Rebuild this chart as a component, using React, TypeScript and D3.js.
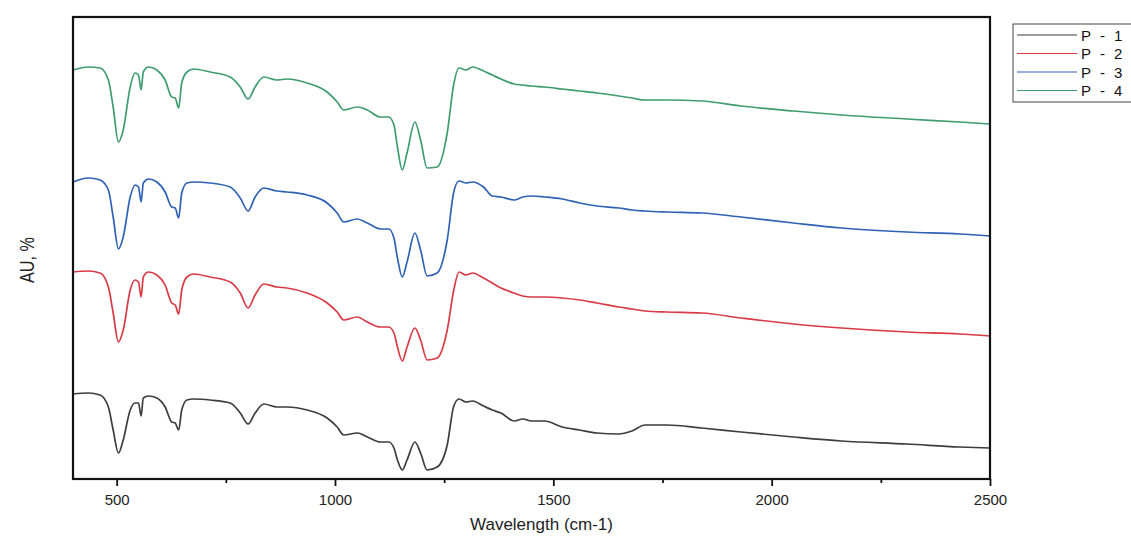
import React, { useRef, useEffect } from "react";
import * as d3 from "d3";

// wavelength grid (cm-1) shared by all four spectra
const wavelengths = [
  400, 435, 462, 481, 492, 504, 515, 531, 542, 550, 556, 561, 573, 592, 611, 626, 634, 642, 649, 661,
  676, 714, 760, 783, 801, 817, 837, 867, 890, 936, 982, 1005, 1020, 1051, 1074, 1104, 1123, 1135, 1143,
  1154, 1165, 1183, 1196, 1211, 1234, 1257, 1272, 1284, 1300, 1315, 1340, 1360, 1380, 1410, 1430, 1450,
  1480, 1520, 1560, 1600, 1650, 1680, 1710, 1760, 1840, 1930, 2050, 2160, 2310, 2430, 2500,
];

const p1 = [
  8.5, 8.6, 8.4, 7.2, 4.9, 2.6, 3.9, 6.9, 7.6, 7.6, 6.3, 8.1, 8.3, 8.1, 7.2, 5.7, 5.6, 4.9, 6.9, 7.9,
  8.0, 7.9, 7.6, 6.6, 5.5, 6.6, 7.5, 7.2, 7.2, 6.9, 6.1, 5.2, 4.4, 4.6, 4.2, 3.7, 3.7, 3.1, 1.9,
  0.9, 1.9, 3.7, 2.6, 0.9, 1.2, 3.4, 7.3, 8.0, 7.7, 7.8, 7.3, 6.9, 6.6, 5.8, 6.0, 5.8,
  5.8, 5.2, 4.9, 4.6, 4.5, 4.8, 5.4, 5.4, 5.1, 4.7, 4.2, 3.8, 3.5, 3.2, 3.1,
];

const p2 = [
  20.7, 20.8, 20.6, 19.2, 16.6, 13.7, 14.9, 18.9, 19.9, 19.7, 18.2, 20.2, 20.7, 20.4, 19.4, 17.6, 17.4, 16.5, 18.9, 20.2,
  20.5, 20.2, 19.7, 18.6, 17.1, 18.4, 19.5, 19.2, 19.1, 18.6, 17.6, 16.7, 15.9, 16.2, 15.7, 15.2, 15.2, 14.6, 13.2,
  11.8, 13.2, 15.1, 13.9, 11.9, 12.1, 14.9, 18.9, 20.7, 20.4, 20.6, 20.1, 19.6, 19.1, 18.6, 18.3, 18.2,
  18.2, 18.1, 17.9, 17.6, 17.2, 17.0, 16.8, 16.7, 16.6, 16.1, 15.5, 15.1, 14.7, 14.5, 14.3,
];

const p3 = [
  29.7, 30.1, 29.9, 28.9, 26.2, 23.0, 24.2, 28.2, 29.4, 29.2, 27.7, 29.6, 30.0, 29.7, 28.7, 27.2, 27.1, 26.1, 28.6, 29.6,
  29.7, 29.6, 29.2, 28.1, 26.8, 28.2, 29.1, 28.8, 28.7, 28.4, 27.6, 26.6, 25.7, 26.0, 25.6, 25.0, 25.0, 24.1, 22.1,
  20.2, 21.7, 24.6, 22.9, 20.3, 20.6, 23.9, 28.7, 29.8, 29.6, 29.7, 29.2, 28.3, 28.2, 27.9, 28.2, 28.3,
  28.2, 28.0, 27.6, 27.3, 27.1, 26.9, 26.8, 26.7, 26.6, 26.2, 25.6, 25.1, 24.7, 24.5, 24.3,
];

const p4 = [
  40.9, 41.2, 41.1, 39.9, 37.2, 33.7, 34.9, 39.2, 40.6, 40.4, 38.9, 40.7, 41.2, 40.9, 39.9, 38.2, 38.1, 37.1, 39.6, 40.7,
  41.0, 40.7, 40.2, 39.2, 38.0, 39.2, 40.2, 39.9, 40.0, 39.6, 38.7, 37.7, 36.9, 37.2, 36.9, 36.2, 36.2, 35.4, 33.2,
  30.9, 32.6, 35.7, 33.9, 31.1, 31.2, 34.6, 39.5, 41.1, 40.9, 41.2, 40.8, 40.4, 40.0, 39.5, 39.4, 39.3,
  39.2, 39.0, 38.8, 38.6, 38.3, 38.1, 37.9, 37.9, 37.8, 37.3, 36.8, 36.4, 36.0, 35.7, 35.5,
];

const seriesNames = ["P - 1", "P - 2", "P - 3", "P - 4"];
const seriesValues = [p1, p2, p3, p4];
const seriesColors = ["#3d3d3d", "#d93a45", "#2f62b5", "#3f9c6f"];

const majorTicks = [500, 1000, 1500, 2000, 2500];
const minorTicks = [750, 1250, 1750, 2250];

const Chart = ({ width = 1131, height = 537 }) => {
  const svgRef = useRef(null);

  useEffect(() => {
    const margin = { top: 17, right: 141, bottom: 58, left: 73 };
    const innerWidth = width - margin.left - margin.right;
    const innerHeight = height - margin.top - margin.bottom;
    const font = "'Liberation Sans', Arial, sans-serif";

    const svg = d3.select(svgRef.current).attr("width", width).attr("height", height);
    svg.selectAll("*").remove();

    const xScale = d3.scaleLinear().domain([400, 2500]).range([0, innerWidth]);
    const yScale = d3.scaleLinear().domain([0, 46.2]).range([innerHeight, 0]);

    const g = svg.append("g").attr("transform", `translate(${margin.left},${margin.top})`);

    // spectra
    const line = d3
      .line()
      .x((d) => xScale(d[0]))
      .y((d) => yScale(d[1]))
      .curve(d3.curveMonotoneX);

    seriesValues.forEach((vals, i) => {
      g.append("path")
        .datum(wavelengths.map((w, j) => [w, vals[j]]))
        .attr("fill", "none")
        .attr("stroke", seriesColors[i])
        .attr("stroke-width", 1.7)
        .attr("stroke-linejoin", "round")
        .attr("d", line);
    });

    // frame
    g.append("rect")
      .attr("width", innerWidth)
      .attr("height", innerHeight)
      .attr("fill", "none")
      .attr("stroke", "#111")
      .attr("stroke-width", 2.2);

    // bottom axis
    const xAxis = g.append("g").attr("transform", `translate(0,${innerHeight})`);
    xAxis
      .call(d3.axisBottom(xScale).tickValues(majorTicks).tickSize(7).tickPadding(8).tickFormat(d3.format("d")))
      .call((a) => a.select(".domain").remove())
      .call((a) => a.selectAll("line").attr("stroke", "#111").attr("stroke-width", 1.8))
      .call((a) =>
        a.selectAll("text")
          .attr("fill", "#222")
          .attr("font-size", 15)
          .attr("font-family", font)
      );
    xAxis
      .append("g")
      .call(d3.axisBottom(xScale).tickValues(minorTicks).tickSize(4).tickFormat(() => ""))
      .call((a) => a.select(".domain").remove())
      .call((a) => a.selectAll("line").attr("stroke", "#111").attr("stroke-width", 1.8));

    g.append("text")
      .attr("x", innerWidth / 2 + 10)
      .attr("y", innerHeight + 51)
      .attr("text-anchor", "middle")
      .attr("font-size", 17)
      .attr("font-family", font)
      .attr("fill", "#222")
      .text("Wavelength (cm-1)");

    svg.append("text")
      .attr("transform", `translate(34,${margin.top + innerHeight / 2 + 12}) rotate(-90)`)
      .attr("text-anchor", "middle")
      .attr("font-size", 21)
      .attr("textLength", 46)
      .attr("lengthAdjust", "spacingAndGlyphs")
      .attr("font-family", font)
      .attr("fill", "#222")
      .text("AU, %");

    // legend
    const legend = svg.append("g").attr("transform", "translate(1013,24)");
    legend.append("rect")
      .attr("width", 130)
      .attr("height", 78)
      .attr("fill", "white")
      .attr("stroke", "#444")
      .attr("stroke-width", 1);
    seriesNames.forEach((name, i) => {
      const row = legend.append("g").attr("transform", `translate(0,${11 + i * 18.5})`);
      row.append("line")
        .attr("x1", 4)
        .attr("x2", 64)
        .attr("stroke", seriesColors[i])
        .attr("stroke-width", 1.2);
      row.append("text")
        .attr("x", 68)
        .attr("y", 5.5)
        .attr("font-size", 15)
        .attr("word-spacing", 5)
        .attr("font-family", font)
        .attr("fill", "#111")
        .text(name);
    });
  }, [width, height]);

  return <svg ref={svgRef} style={{ position: "absolute", left: 0, top: 0 }}></svg>;
};

export default function App() {
  return <Chart />;
}
